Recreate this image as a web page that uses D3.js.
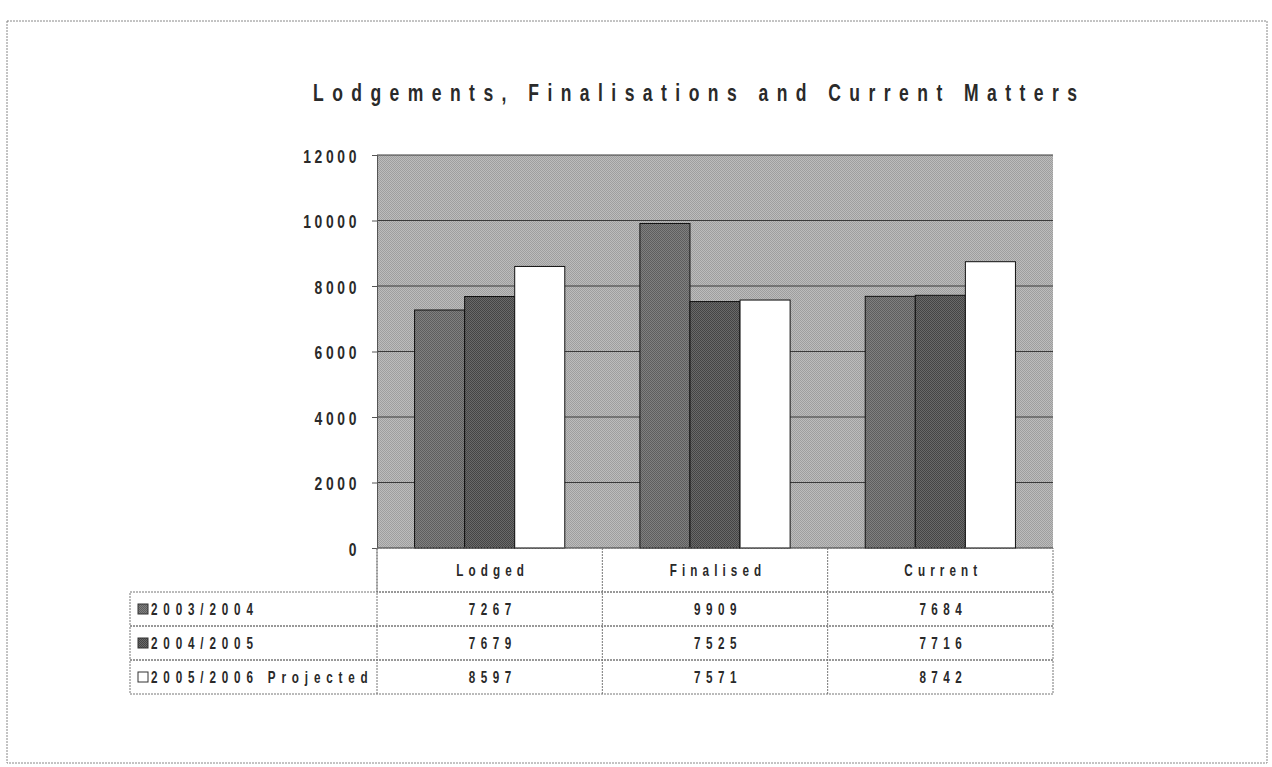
<!DOCTYPE html>
<html>
<head>
<meta charset="utf-8">
<script src="https://cdn.jsdelivr.net/npm/d3@7"></script>
<style>
  body { margin: 0; background: #fff; }
  text { font-family: 'Liberation Sans', Arial, sans-serif; font-weight: bold; fill: #2a2a2a; }
</style>
</head>
<body>
<svg id="chart"></svg>
<script>
const categories = ['Lodged', 'Finalised', 'Current'];
const seriesNames = ['2003/2004', '2004/2005', '2005/2006 Projected'];
const values2003 = [7267, 9909, 7684];
const values2004 = [7679, 7525, 7716];
const values2005 = [8597, 7571, 8742];
const yTicks = [0, 2000, 4000, 6000, 8000, 10000, 12000];
const titleText = 'Lodgements, Finalisations and Current Matters';

const seriesValues = [values2003, values2004, values2005];

const width = 1272;
const height = 767;
const plot = { left: 377, right: 1053, top: 155, bottom: 548 };
const tableLeft = 130;
const headerBottom = 592;
const rowH = 34;
const sx = 0.73; // narrow look of the scanned font

const svg = d3.select('#chart').attr('width', width).attr('height', height);

// halftone-like fills
const defs = svg.append('defs');
function stipple(id, a, b) {
  const p = defs.append('pattern').attr('id', id)
    .attr('width', 2).attr('height', 2).attr('patternUnits', 'userSpaceOnUse');
  p.append('rect').attr('width', 2).attr('height', 2).attr('fill', a);
  p.append('rect').attr('width', 1).attr('height', 1).attr('fill', b);
  p.append('rect').attr('x', 1).attr('y', 1).attr('width', 1).attr('height', 1).attr('fill', b);
}
stipple('bgFill', '#bcbcbc', '#9e9e9e');
stipple('s0Fill', '#808080', '#5e5e5e');
stipple('s1Fill', '#6a6a6a', '#454545');
const seriesFill = ['url(#s0Fill)', 'url(#s1Fill)', '#ffffff'];

// positions a narrowed text element
function place(sel, px, py) {
  return sel.attr('x', 0).attr('y', 0)
    .attr('transform', `translate(${px},${py}) scale(${sx},1)`);
}

// outer frame
svg.append('rect')
  .attr('x', 7).attr('y', 21).attr('width', 1260).attr('height', 742)
  .attr('fill', 'none').attr('stroke', '#888').attr('stroke-width', 1)
  .attr('stroke-dasharray', '2,1');

// title
svg.append('text')
  .call(place, 313, 101)
  .attr('font-size', 24)
  .attr('textLength', 764 / sx).attr('lengthAdjust', 'spacing')
  .text(titleText);

const x = d3.scaleBand().domain(categories).range([plot.left, plot.right]);
const xs = d3.scaleBand().domain(seriesNames).range([0, x.bandwidth()]).paddingOuter(0.75);
const y = d3.scaleLinear().domain([0, 12000]).range([plot.bottom, plot.top]);

// plot background
svg.append('rect')
  .attr('x', plot.left).attr('y', plot.top)
  .attr('width', plot.right - plot.left).attr('height', plot.bottom - plot.top)
  .attr('fill', 'url(#bgFill)');

// grid lines
svg.append('g')
  .selectAll('line')
  .data(yTicks)
  .join('line')
  .attr('x1', plot.left).attr('x2', plot.right)
  .attr('y1', d => y(d)).attr('y2', d => y(d))
  .attr('stroke', '#3a3a3a').attr('stroke-width', 1);

// y axis
const yAxis = svg.append('g')
  .attr('transform', `translate(${plot.left},0)`)
  .call(d3.axisLeft(y).tickValues(yTicks).tickSize(5).tickFormat(d3.format('d')));
yAxis.attr('font-family', null).attr('font-size', null);
yAxis.select('.domain').attr('stroke', '#555');
yAxis.selectAll('.tick line').attr('stroke', '#555');
yAxis.selectAll('.tick text')
  .attr('dy', null)
  .call(place, -17, 7)
  .attr('font-size', 19)
  .attr('letter-spacing', 5)
  .attr('fill', '#2a2a2a');

// bars
seriesNames.forEach((s, i) => {
  svg.append('g')
    .selectAll('rect')
    .data(seriesValues[i])
    .join('rect')
    .attr('x', (d, j) => x(categories[j]) + xs(s))
    .attr('y', d => y(d))
    .attr('width', xs.bandwidth())
    .attr('height', d => y(0) - y(d))
    .attr('fill', seriesFill[i])
    .attr('stroke', '#111')
    .attr('stroke-width', 1);
});

// data table
const table = svg.append('g');
const lineStyle = sel => sel.attr('stroke', '#777').attr('stroke-width', 1).attr('stroke-dasharray', '2,1').attr('fill', 'none');

table.append('rect')
  .attr('x', plot.left).attr('y', plot.bottom)
  .attr('width', plot.right - plot.left).attr('height', headerBottom - plot.bottom)
  .call(lineStyle);

seriesNames.forEach((s, i) => {
  table.append('rect')
    .attr('x', tableLeft).attr('y', headerBottom + i * rowH)
    .attr('width', plot.right - tableLeft).attr('height', rowH)
    .call(lineStyle);
});

table.selectAll('line.col')
  .data(categories)
  .join('line')
  .attr('x1', d => x(d)).attr('x2', d => x(d))
  .attr('y1', plot.bottom).attr('y2', headerBottom + 3 * rowH)
  .call(lineStyle);

// category headers
categories.forEach(c => {
  table.append('text')
    .call(place, x(c) + x.bandwidth() / 2 + 3, (plot.bottom + headerBottom) / 2 + 6)
    .attr('text-anchor', 'middle')
    .attr('font-size', 16)
    .attr('letter-spacing', 7)
    .text(c);
});

// row labels with swatches and values
seriesNames.forEach((s, i) => {
  const cy = headerBottom + i * rowH + rowH / 2;
  table.append('rect')
    .attr('x', 138).attr('y', cy - 5)
    .attr('width', 10).attr('height', 10)
    .attr('fill', seriesFill[i])
    .attr('stroke', '#333').attr('stroke-width', 1);
  table.append('text')
    .call(place, 151, cy + 6)
    .attr('font-size', 16)
    .attr('letter-spacing', 8)
    .text(s);
  seriesValues[i].forEach((v, j) => {
    table.append('text')
      .call(place, x(categories[j]) + x.bandwidth() / 2 + 3, cy + 6)
      .attr('text-anchor', 'middle')
      .attr('font-size', 16)
      .attr('letter-spacing', 7.5)
      .text(v);
  });
});
</script>
</body>
</html>
